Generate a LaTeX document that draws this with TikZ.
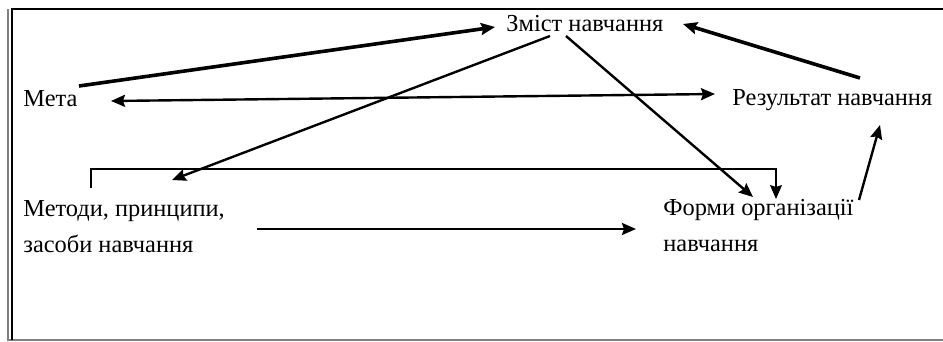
\documentclass[tikz,border=0pt]{standalone}
\usepackage{fontspec}
\setmainfont{Liberation Serif}
\usetikzlibrary{arrows.meta}

\begin{document}
\begin{tikzpicture}[x=0.5pt, y=-0.5pt,
    >={Stealth[length=7pt, width=6pt, inset=1pt]},
    word/.style={anchor=base west, inner sep=0pt, align=left,
      font=\fontsize{12.2}{17.7}\selectfont},
    heavyline/.style={line width=1.8pt},
    midline/.style={line width=1.2pt},
    thinline/.style={line width=0.6pt}]
  \useasboundingbox (0,0) rectangle (943,342);
  \draw [gray, line width=0.8pt] (8,9) -- (8,340) -- (943,340);
  \draw [black, line width=0.6pt] (12,340) -- (12,9) -- (943,9);

  \node [word] (meta) at (23,107) {Мета};
  \node [word] (zmist) at (506,32) {Зміст навчання};
  \node [word] (rezult) at (732,106) {Результат навчання};
  \node [word] (metody) at (23,252) {Методи, принципи,\\засоби навчання};
  \node [word] (formy) at (663,251) {Форми організації\\навчання};

  \draw [heavyline, ->] ([shift={(56,-21)}]meta.base west)
                        -- ([shift={(-11,-5)}]zmist.base west);
  \draw [midline, ->] ([shift={(44,4)}]zmist.base west)
                      -- ([shift={(149,-72)}]metody.base west);
  \draw [midline, <->] ([shift={(88,-6)}]meta.base west)
                       -- ([shift={(-17,-12)}]rezult.base west);
  \draw [midline, ->] ([shift={(60,4)}]zmist.base west)
                      -- ([shift={(90,-54)}]formy.base west);
  \draw [thinline, ->] ([shift={(68,-64)}]metody.base west) -- ++(0,-19)
                       -| ([shift={(113,-52)}]formy.base west);
  \draw [midline, ->] ([shift={(234,-23)}]metody.base west)
                      -- ([shift={(-27,-22)}]formy.base west);
  \draw [midline, ->] ([shift={(196,-51)}]formy.base west)
                      -- ([shift={(148,19)}]rezult.base west);
  \draw [heavyline, ->] ([shift={(128,-28)}]rezult.base west)
                        -- ([shift={(177,-8)}]zmist.base west);
\end{tikzpicture}
\end{document}
